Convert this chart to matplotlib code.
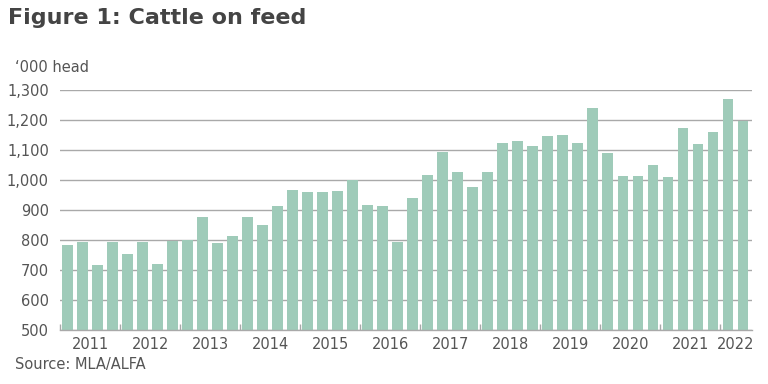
import numpy as np
import matplotlib.pyplot as plt

# quarterly cattle on feed, '000 head (2011 Q1 .. 2022 Q2)
values = [783, 794, 717, 794,
          755, 792, 720, 796,
          801, 876, 789, 813,
          876, 850, 912, 967,
          961, 961, 964, 1001,
          918, 912, 792, 940,
          1018, 1093, 1027, 976,
          1027, 1123, 1129, 1114,
          1148, 1150, 1123, 1240,
          1090, 1012, 1012, 1050,
          1009, 1173, 1121, 1159,
          1271, 1196]
years = ["2011", "2012", "2013", "2014", "2015", "2016",
         "2017", "2018", "2019", "2020", "2021", "2022"]
quarters_per_year = [4, 4, 4, 4, 4, 4, 4, 4, 4, 4, 4, 2]

BAR_COLOR = "#9fcbb9"
GRID_COLOR = "#a9a9a9"
TEXT_COLOR = "#555555"

fig = plt.figure(figsize=(7.68, 3.84), dpi=100)
ax = fig.add_axes([60 / 768, (384 - 330) / 384, 692 / 768, 240 / 384])

x = np.arange(len(values))
ax.bar(x, values, width=0.72, color=BAR_COLOR, zorder=2, bottom=0)

ax.set_ylim(500, 1300)
ax.set_xlim(-0.5, len(values) - 0.5 + 0.1)
ax.set_yticks(range(500, 1301, 100))
ax.set_yticklabels([f"{v:,}" for v in range(500, 1301, 100)],
                   fontsize=10.5, color=TEXT_COLOR)
ax.yaxis.grid(True, color=GRID_COLOR, linewidth=1.0, zorder=0)
ax.tick_params(axis="y", length=0, pad=8)

# year separators and centred year labels
edges = np.concatenate([[0], np.cumsum(quarters_per_year)]) - 0.5
ax.set_xticks(edges[:-1])
ax.set_xticklabels([])
ax.tick_params(axis="x", length=4, width=1, color=GRID_COLOR, direction="in")
ax.set_xticks((edges[:-1] + edges[1:]) / 2, minor=True)
ax.set_xticklabels(years, minor=True, fontsize=10.5, color=TEXT_COLOR)
ax.tick_params(axis="x", which="minor", length=0, pad=5)

for s in ["top", "right", "left"]:
    ax.spines[s].set_visible(False)
ax.spines["bottom"].set_color(GRID_COLOR)
ax.spines["bottom"].set_linewidth(1.0)
ax.set_axisbelow(True)

fig.text(8 / 768, 1 - 18 / 384, "Figure 1: Cattle on feed", fontsize=16,
         fontweight="bold", color="#444444", va="center", ha="left")
fig.text(15 / 768, 1 - 68 / 384, "\u2018000 head", fontsize=10.5,
         color=TEXT_COLOR, va="center", ha="left")
fig.text(15 / 768, 1 - 364 / 384, "Source: MLA/ALFA", fontsize=10.5,
         color=TEXT_COLOR, va="center", ha="left")

fig.savefig("out.png", dpi=100, facecolor="white")
